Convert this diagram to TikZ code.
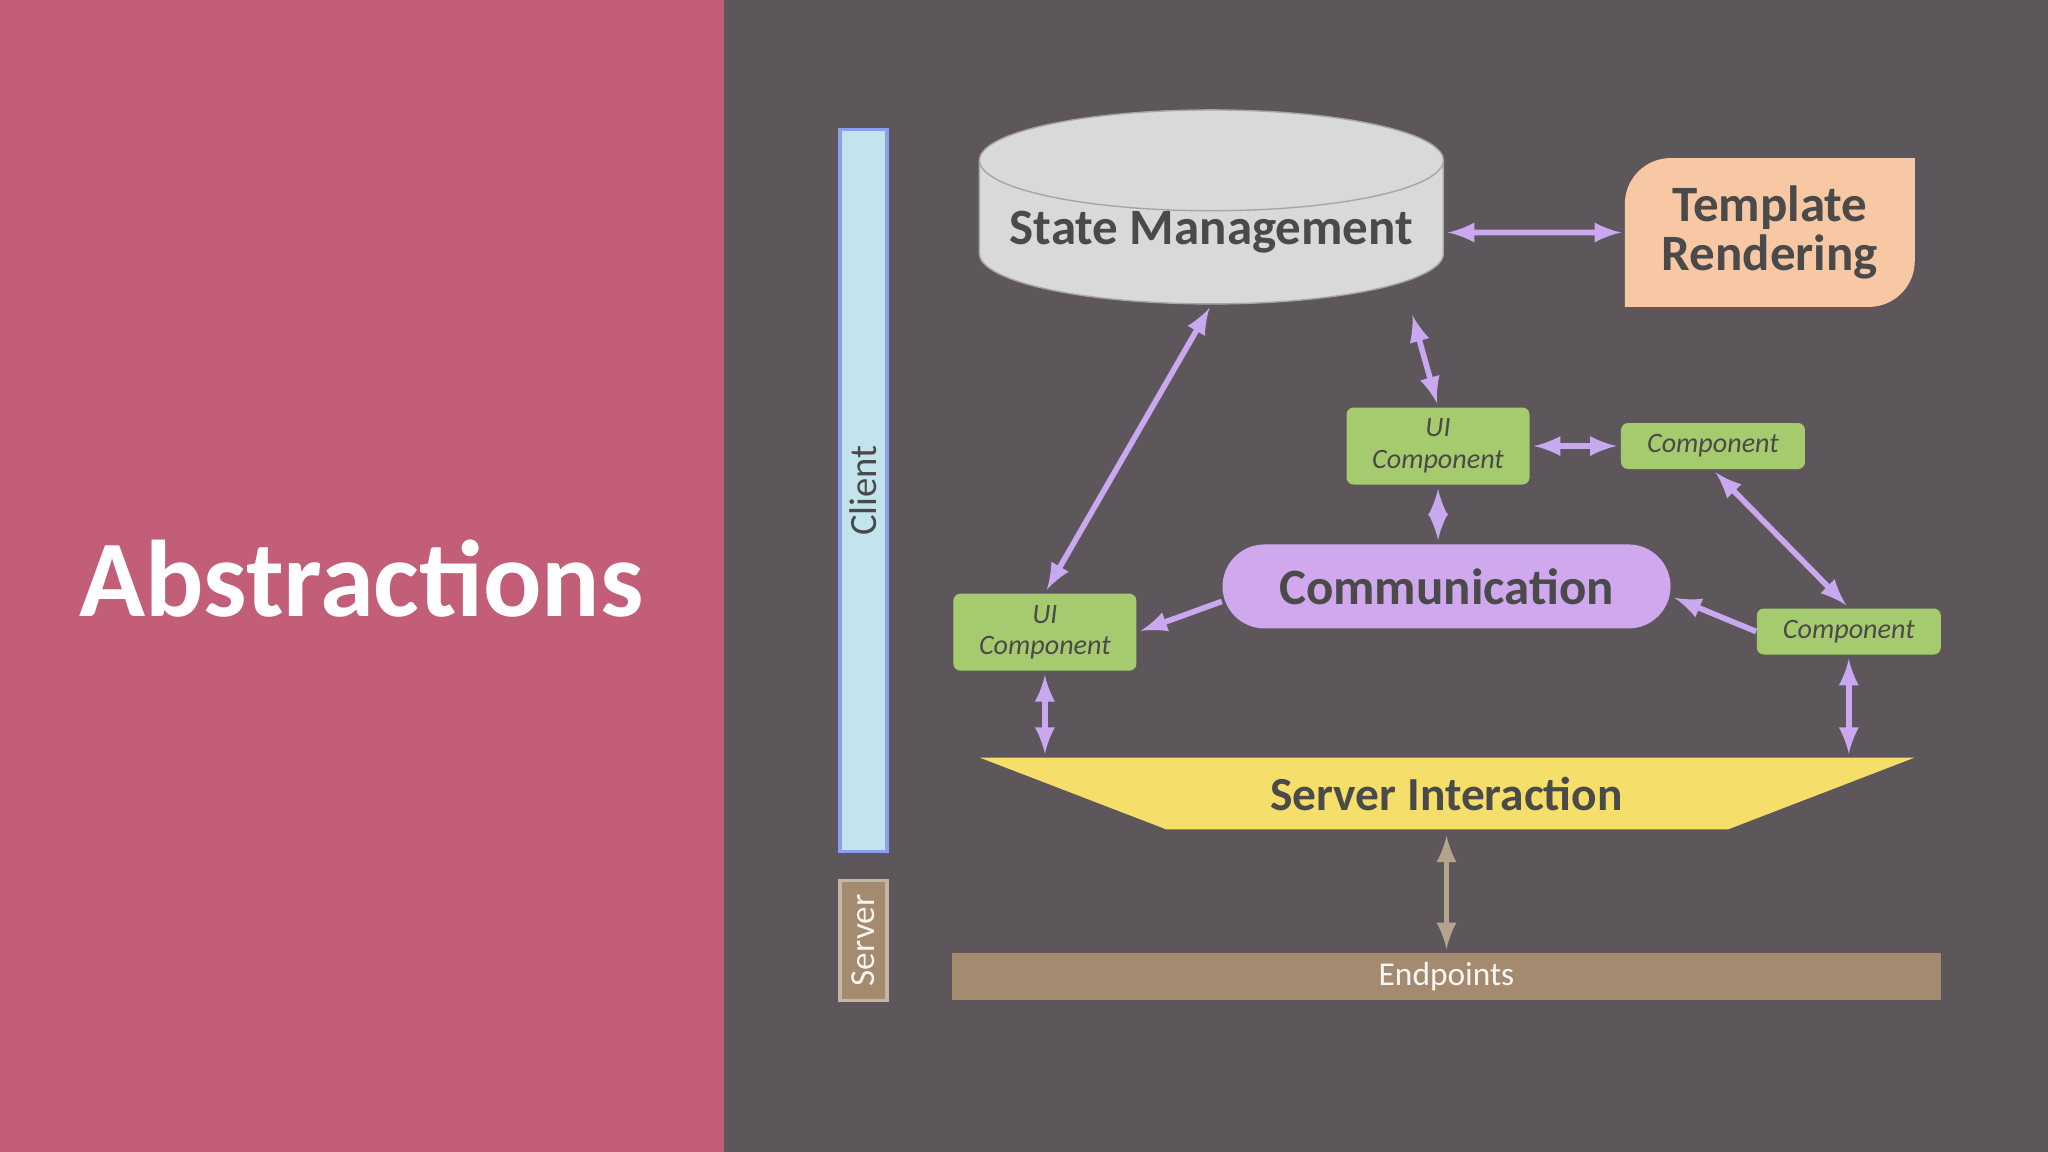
\documentclass[tikz,border=0pt]{standalone}
\usepackage{fontspec}
\setmainfont{Carlito}
\usetikzlibrary{shapes.geometric}
\definecolor{panel}{HTML}{C25E78}
\definecolor{slate}{HTML}{5D575C}
\definecolor{ink}{HTML}{4A4A4A}
\definecolor{leaf}{HTML}{A6CB6E}
\definecolor{lilac}{HTML}{C9A8F0}
\definecolor{lilacbox}{HTML}{CFA8EE}
\definecolor{peach}{HTML}{F8C8A4}
\definecolor{sky}{HTML}{C3E4EC}
\definecolor{bronze}{HTML}{A48A6E}
\definecolor{sand}{HTML}{B4A48E}
\definecolor{lemon}{HTML}{F6DE6A}
\tikzset{
  comp/.style={fill=leaf, rounded corners=2pt, text=ink, font=\itshape\fontsize{8}{9}\selectfont, align=center, inner sep=0pt},
  link/.style={latex-latex, lilac, line width=1.6pt, shorten >=1pt, shorten <=1pt},
  big/.style={text=ink, font=\bfseries\fontsize{14.5}{16}\selectfont, align=center}
}
\begin{document}
\begin{tikzpicture}[x=0.013061cm, y=-0.013061cm]
    \useasboundingbox (0,0) rectangle (1568,882);
    \fill[slate] (0,0) rectangle (1568,882);
    \fill[panel] (0,0) rectangle (554,882);
    \node[text=white, font=\bfseries\fontsize{31}{34}\selectfont] (title) at (277,443) {Abstractions};

    % side bars
    \node[fill=sky, draw=sky!70!blue, line width=1pt, minimum width=0.47cm, minimum height=7.22cm, inner sep=0pt] (client) at (661,375.5) {};
    \node[rotate=90, text=ink, font=\fontsize{11}{12}\selectfont] at (client) {Client};
    \node[fill=bronze, draw=sand!80!white, line width=1pt, minimum width=0.47cm, minimum height=1.2cm, inner sep=0pt] (server) at (661,720) {};
    \node[rotate=90, text=white!90!bronze, font=\fontsize{10}{11}\selectfont] at (server) {Server};

    % main blocks
    \node[cylinder, shape border rotate=90, aspect=0.25, draw=gray!70, fill=gray!30, minimum width=4.64cm, minimum height=1.2cm, big, inner sep=0pt] (state) at (927.5,178) {State Management};
    \fill[peach] (1244,235) [rounded corners=0.46cm] -- (1244,121) [sharp corners] -- (1466,121) [rounded corners=0.46cm] -- (1466,235) [sharp corners] -- cycle;
    \node[big] (tmpl) at (1355,178) {Template\\[-2pt]Rendering};
    \coordinate (tmplw) at (1244,178);

    \node[comp, minimum width=1.83cm, minimum height=0.77cm] (uitop) at (1101,341.5) {UI\\Component};
    \node[comp, minimum width=1.84cm, minimum height=0.46cm] (comptop) at (1311.5,341.5) {Component};
    \node[fill=lilacbox, rounded corners=0.42cm, minimum width=4.48cm, minimum height=0.84cm, big, inner sep=0pt] (comm) at (1107.5,449) {Communication};
    \node[comp, minimum width=1.83cm, minimum height=0.77cm] (uileft) at (800,484) {UI\\Component};
    \node[comp, minimum width=1.84cm, minimum height=0.46cm] (compright) at (1415.5,483.5) {Component};

    \fill[lemon] (750,580) -- (1466,580) -- (1323,635) -- (893,635) -- cycle;
    \node[big, font=\bfseries\fontsize{13.5}{15}\selectfont] (srv) at (1107.5,608) {Server Interaction};
    \coordinate (srvtop) at (1107.5,637);
    \coordinate (srvleft) at (800,580);
    \coordinate (srvright) at (1415.5,580);

    \node[fill=bronze, minimum width=9.89cm, minimum height=0.47cm, text=white!92!bronze, font=\fontsize{9.5}{11}\selectfont, inner sep=0pt] (endp) at (1107.5,748) {Endpoints};

    % connectors
    \draw[link] (state.east) -- (tmplw);
    \draw[link] (state.south) -- (uileft.north);
    \draw[link] ([xshift=2cm,yshift=-2pt]state.south) -- (uitop.north);
    \draw[link] (uitop.east) -- (comptop.west);
    \draw[link] (uitop.south) -- (comm.north -| uitop.south);
    \draw[link] (comptop.south) -- (compright.north);
    \draw[-latex, lilac, line width=1.6pt, shorten >=1pt] ([yshift=-0.15cm]comm.west) -- (uileft.east);
    \draw[-latex, lilac, line width=1.6pt, shorten >=1pt] (compright.west) -- ([yshift=-0.1cm]comm.east);
    \draw[link] (uileft.south) -- (srvleft);
    \draw[link] (compright.south) -- (srvright);
    \draw[link, sand] (srvtop) -- (endp.north);
\end{tikzpicture}
\end{document}
